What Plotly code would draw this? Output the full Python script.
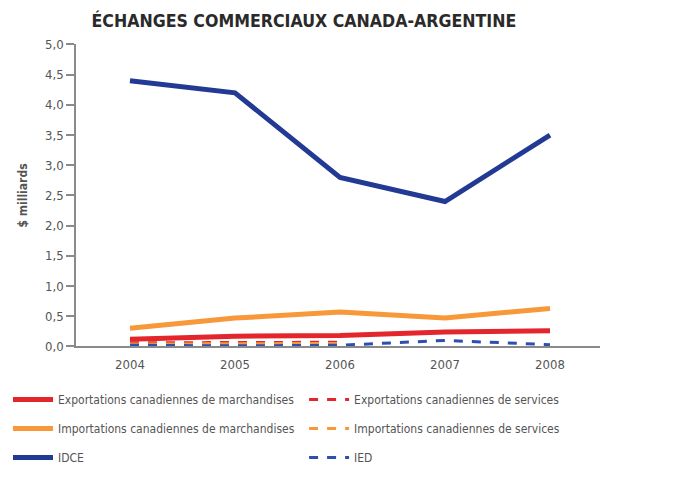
import plotly.graph_objects as go

# Données (milliards de $)
annees = ["2004", "2005", "2006", "2007", "2008"]
idce = [4.4, 4.2, 2.8, 2.4, 3.5]
imp_march = [0.30, 0.47, 0.57, 0.47, 0.63]
exp_march = [0.12, 0.17, 0.18, 0.24, 0.26]
exp_serv = [0.06, 0.07, 0.07, None, None]
imp_serv = [0.04, 0.05, 0.05, None, None]
ied = [0.02, 0.01, 0.02, 0.10, 0.03]
y_ticks = [0, 0.5, 1, 1.5, 2, 2.5, 3, 3.5, 4, 4.5, 5]
y_labels = ["0,0", "0,5", "1,0", "1,5", "2,0", "2,5", "3,0", "3,5", "4,0", "4,5", "5,0"]

ROUGE = "#e2262b"
ORANGE = "#f7993a"
BLEU = "#223a93"
BLEU_CLAIR = "#2d4fb0"
FONT = "DejaVu Sans Condensed, sans-serif"

series = [
    # nom, valeurs, couleur, style, épaisseur, légende
    ("Exportations canadiennes de marchandises", exp_march, ROUGE, "solid", 5, "legend"),
    ("Importations canadiennes de marchandises", imp_march, ORANGE, "solid", 5, "legend"),
    ("IDCE", idce, BLEU, "solid", 5, "legend"),
    ("Exportations canadiennes de services", exp_serv, ROUGE, "dash", 3, "legend2"),
    ("Importations canadiennes de services", imp_serv, ORANGE, "dash", 3, "legend2"),
    ("IED", ied, BLEU_CLAIR, "dash", 3, "legend2"),
]

fig = go.Figure()
for i, (nom, vals, coul, style, ep, leg) in enumerate(series):
    fig.add_trace(go.Scatter(
        x=annees, y=vals, name=nom, mode="lines",
        line=dict(color=coul, width=ep, dash=style),
        legend=leg, legendgroup=str(i), connectgaps=False,
    ))

# ordre de dessin : IDCE et marchandises au-dessus des services
fig.data = tuple(list(fig.data[3:]) + list(fig.data[:3]))

legend_style = dict(
    orientation="v", font=dict(family=FONT, size=12, color="#555555"),
    bgcolor="rgba(0,0,0,0)", tracegroupgap=10, xanchor="left", yanchor="top",
    itemwidth=40, traceorder="grouped",
)

# la page ajoute une marge de 8 px : figure de 676x477, zone de tracé placée par domaines
fig.update_layout(
    width=676, height=477,
    margin=dict(l=0, r=0, t=0, b=0, autoexpand=False),
    paper_bgcolor="white", plot_bgcolor="white",
    title=dict(text="<b>ÉCHANGES COMMERCIAUX CANADA-ARGENTINE</b>",
               font=dict(family=FONT, size=17.6, color="#2a2a2a"),
               x=0.1235, xanchor="left", y=0.9727, yanchor="middle"),
    showlegend=True,
    legend=dict(**legend_style, x=0.0, y=0.2096),
    legend2=dict(**legend_style, x=0.438, y=0.2096),
    xaxis=dict(
        type="category", range=[-0.514, 4.476], domain=[0.1006, 0.8757],
        showline=True, linecolor="#8a8a8a", linewidth=1.5, automargin=False,
        ticks="", showgrid=False, zeroline=False, ticklabelstandoff=5,
        tickfont=dict(family=FONT, size=13, color="#555555"),
    ),
    yaxis=dict(
        range=[0, 5], tickvals=y_ticks, ticktext=y_labels,
        domain=[0.2904, 0.9235], automargin=False,
        showline=True, linecolor="#8a8a8a", linewidth=1.5,
        ticks="outside", ticklen=8, tickcolor="#8a8a8a", tickwidth=1.5,
        showgrid=False, zeroline=False,
        tickfont=dict(family=FONT, size=13, color="#555555"),
        title=dict(text="<b>$ milliards</b>", standoff=15,
                   font=dict(family=FONT, size=12, color="#555555")),
    ),
)

fig.write_html("out.html")
